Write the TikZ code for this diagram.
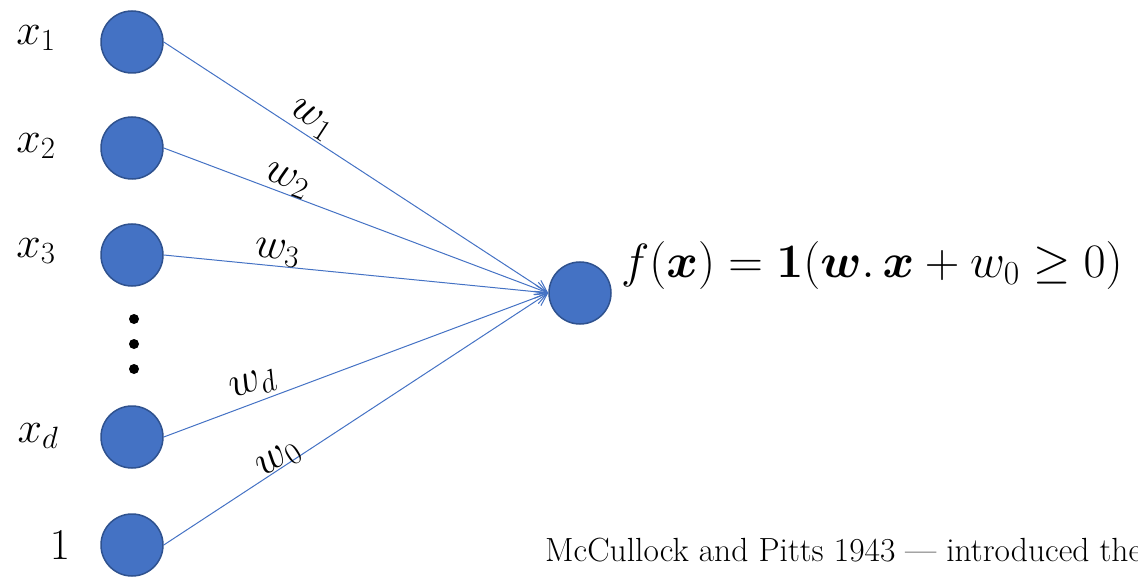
\documentclass[tikz,border=0pt]{standalone}
\usepackage{fix-cm}
\usepackage{amsmath,amssymb,bm}
\usetikzlibrary{arrows.meta}
\definecolor{nfill}{HTML}{4472C4}
\definecolor{nborder}{HTML}{2F528F}
\begin{document}
\begin{tikzpicture}[x=1pt,y=-1pt,
  neuron/.style={circle,fill=nfill,draw=nborder,line width=1.5pt,minimum size=62pt,inner sep=0pt},
  conn/.style={draw=nfill,line width=1pt,-{Straight Barb[length=12pt,width=13pt]}},
  lab/.style={inner sep=0pt,font=\fontsize{44}{50}\selectfont},
  wlab/.style={inner sep=0pt,font=\fontsize{44}{50}\selectfont},
  dotn/.style={circle,fill=black,minimum size=10pt,inner sep=0pt}]
\useasboundingbox (0,0) rectangle (1138,580);
\clip (0,0) rectangle (1138,580);
% input neurons
\node[neuron] (n1) at (132,42) {};
\node[neuron] (n2) at (132,148) {};
\node[neuron] (n3) at (132,255) {};
\node[neuron] (nd) at (132,437) {};
\node[neuron] (n0) at (132,545) {};
\node[neuron] (out) at (580,293) {};
% dots
\node[dotn] (d1) at (134,319) {};
\node[dotn] (d2) at (134,344) {};
\node[dotn] (d3) at (134,369) {};
% input labels
\node[lab] (lx1) at (36,38) {$x_1$};
\node[lab] (lx2) at (36,146) {$x_2$};
\node[lab] (lx3) at (36,251) {$x_3$};
\node[lab] (lxd) at (38,436) {$x_d$};
\node[lab] (l1) at (60,545) {$1$};
% connectors
\draw[conn] (n1.east) -- (out.west);
\draw[conn] (n2.east) -- (out.west);
\draw[conn] (n3.east) -- (out.west);
\draw[conn] (nd.east) -- (out.west);
\draw[conn] (n0.east) -- (out.west);
% weight labels
\node[wlab,rotate=-33] (w1) at (311,120) {$w_1$};
\node[wlab,rotate=-21] (w2) at (287,181) {$w_2$};
\node[wlab,rotate=-6] (w3) at (277,253) {$w_3$};
\node[wlab,rotate=20] (wd) at (253,385) {$w_d$};
\node[wlab,rotate=33] (w0) at (279,460) {$w_0$};
% formula
\node[anchor=base west,inner sep=0pt,font=\fontsize{48}{56}\selectfont] (f) at (621,277)
  {$f(\bm{x}) = \mathbf{1}(\bm{w}.\,\bm{x} + w_0 \geq 0)$};
% caption
\node[anchor=base west,inner sep=0pt,font=\fontsize{33.5}{40}\selectfont] (cap) at (545,561)
  {McCullock and Pitts 1943 --- introduced the};
\end{tikzpicture}
\end{document}
